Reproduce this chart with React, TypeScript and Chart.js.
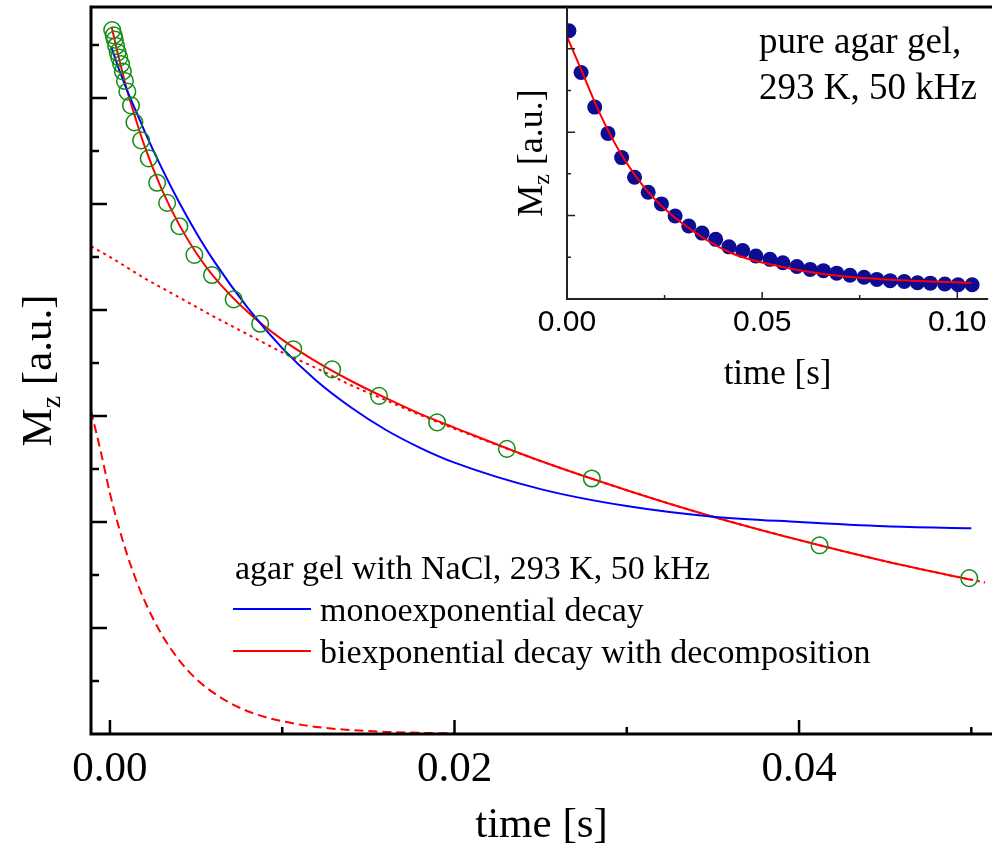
import React, { useEffect, useRef } from 'react';
import { Chart, registerables } from 'chart.js';
Chart.register(...registerables);

const SERIF = "'Liberation Serif', 'Times New Roman', serif";
const SANS = "'Liberation Sans', Arial, sans-serif";

// ---------- Main chart: agar gel with NaCl ----------
const circleTimes = [0.00013, 0.00022, 0.00028, 0.00036, 0.00045, 0.00054, 0.00065, 0.00075, 0.00087, 0.00101, 0.00122, 0.00142, 0.00181, 0.00225, 0.00274, 0.00332, 0.00403, 0.0049, 0.00592, 0.00718, 0.00872, 0.01064, 0.0129, 0.01562, 0.01899, 0.02304, 0.02797, 0.04119, 0.04988];
const circleValues = [6.64, 6.59, 6.55, 6.49, 6.43, 6.38, 6.32, 6.25, 6.16, 6.06, 5.93, 5.77, 5.6, 5.43, 5.2, 5.01, 4.79, 4.52, 4.33, 4.1, 3.87, 3.63, 3.44, 3.19, 2.94, 2.69, 2.41, 1.78, 1.47];

const fitTimes = [0.0001, 0.0005, 0.001, 0.0015, 0.002, 0.003, 0.004, 0.005, 0.006, 0.008, 0.01, 0.012, 0.014, 0.016, 0.018, 0.02, 0.025, 0.03, 0.035, 0.04, 0.045, 0.05];
const monoValues = [6.47, 6.28, 6.07, 5.88, 5.69, 5.34, 5.02, 4.73, 4.47, 4.02, 3.64, 3.33, 3.08, 2.87, 2.7, 2.56, 2.31, 2.15, 2.05, 2.0, 1.96, 1.94];
const biValues = [6.67, 6.39, 6.07, 5.8, 5.55, 5.14, 4.81, 4.54, 4.32, 3.98, 3.72, 3.51, 3.33, 3.17, 3.02, 2.89, 2.575, 2.3, 2.05, 1.83, 1.63, 1.455];

const slowTimes = [-0.0011, 0, 0.001, 0.002, 0.003, 0.004, 0.005, 0.006, 0.008, 0.01, 0.012, 0.014, 0.016, 0.018, 0.02, 0.025, 0.03, 0.035, 0.04, 0.045, 0.05, 0.0508];
const slowValues = [4.6, 4.5, 4.4, 4.3, 4.21, 4.12, 4.03, 3.94, 3.77, 3.6, 3.45, 3.29, 3.15, 3.01, 2.88, 2.575, 2.3, 2.05, 1.83, 1.63, 1.455, 1.43];

const fastTimes = [-0.0011, -0.0005, 0, 0.0005, 0.001, 0.0015, 0.002, 0.003, 0.004, 0.005, 0.006, 0.007, 0.008, 0.009, 0.01, 0.012, 0.014, 0.016, 0.018, 0.02];
const fastValues = [3.05, 2.64, 2.27, 1.96, 1.69, 1.46, 1.26, 0.94, 0.7, 0.52, 0.39, 0.29, 0.215, 0.16, 0.12, 0.066, 0.037, 0.02, 0.011, 0.006];

const mainXMajor = [0, 0.02, 0.04];
const mainXMinor = [0.01, 0.03, 0.05];
const mainYMajor = [1, 2, 3, 4, 5, 6];
const mainYMinor = [0.5, 1.5, 2.5, 3.5, 4.5, 5.5, 6.5];

const legendTitle = 'agar gel with NaCl, 293 K, 50 kHz';
const legendMono = 'monoexponential decay';
const legendBi = 'biexponential decay with decomposition';

// ---------- Inset: pure agar gel ----------
const insetTimes = [0.0005, 0.0036, 0.0071, 0.0105, 0.014, 0.0173, 0.0208, 0.0242, 0.0277, 0.0312, 0.0346, 0.0381, 0.0415, 0.045, 0.0484, 0.052, 0.0553, 0.0589, 0.0623, 0.0657, 0.0691, 0.0725, 0.0761, 0.0794, 0.0828, 0.0864, 0.0898, 0.0931, 0.0968, 0.1002, 0.1038];
const insetValues = [6.43, 5.43, 4.6, 3.97, 3.39, 2.92, 2.56, 2.28, 1.99, 1.75, 1.58, 1.43, 1.25, 1.16, 1.03, 0.95, 0.87, 0.78, 0.71, 0.68, 0.62, 0.57, 0.52, 0.47, 0.44, 0.42, 0.39, 0.38, 0.36, 0.34, 0.34];
const insetFitTimes = [0, 0.0033, 0.0084, 0.0135, 0.0211, 0.0295, 0.0422, 0.0549, 0.0676, 0.0845, 0.1036];
const insetFitValues = [6.29, 5.57, 4.45, 3.53, 2.53, 1.815, 1.096, 0.775, 0.576, 0.456, 0.391];

const insetXMajor = [0, 0.05, 0.1];
const insetXMinor = [0.025, 0.075];
const insetYMajor = [2, 4, 6];
const insetYMinor = [1, 3, 5];
const insetText = ['pure agar gel,', '293 K, 50 kHz'];

const pts = (xs: number[], ys: number[]) => xs.map((x, i) => ({ x, y: ys[i] }));

function drawMzTitle(ctx: CanvasRenderingContext2D, baseX: number, cy: number, size: number) {
  ctx.save();
  ctx.translate(baseX, cy);
  ctx.rotate(-Math.PI / 2);
  ctx.fillStyle = '#000';
  ctx.textBaseline = 'alphabetic';
  ctx.textAlign = 'left';
  const big = `${size}px ${SERIF}`;
  const small = `${Math.round(size * 0.66)}px ${SERIF}`;
  ctx.font = big;
  const wM = ctx.measureText('M').width;
  const wRest = ctx.measureText(' [a.u.]').width;
  ctx.font = small;
  const wz = ctx.measureText('z').width;
  let x = -(wM + wz + wRest) / 2;
  ctx.font = big;
  ctx.fillText('M', x, 0);
  x += wM;
  ctx.font = small;
  ctx.fillText('z', x, size * 0.2);
  x += wz;
  ctx.font = big;
  ctx.fillText(' [a.u.]', x, 0);
  ctx.restore();
}

const mainDecor = {
  id: 'mainDecor',
  afterDraw(chart: any) {
    const { ctx, chartArea: a, scales } = chart;
    const xs = scales.x;
    const ys = scales.y;
    ctx.save();
    ctx.strokeStyle = '#000';
    ctx.lineWidth = 3;
    ctx.beginPath();
    ctx.moveTo(a.left - 1.5, a.top);
    ctx.lineTo(a.right, a.top);
    ctx.moveTo(a.left, a.top);
    ctx.lineTo(a.left, a.bottom + 1.5);
    ctx.moveTo(a.left - 1.5, a.bottom);
    ctx.lineTo(a.right, a.bottom);
    ctx.stroke();

    ctx.lineWidth = 2.5;
    ctx.beginPath();
    mainXMajor.forEach((v) => {
      const p = xs.getPixelForValue(v);
      ctx.moveTo(p, a.bottom);
      ctx.lineTo(p, a.bottom - 14);
    });
    mainXMinor.forEach((v) => {
      const p = xs.getPixelForValue(v);
      ctx.moveTo(p, a.bottom);
      ctx.lineTo(p, a.bottom - 7);
    });
    mainYMajor.forEach((v) => {
      const p = ys.getPixelForValue(v);
      ctx.moveTo(a.left, p);
      ctx.lineTo(a.left + 16, p);
    });
    mainYMinor.forEach((v) => {
      const p = ys.getPixelForValue(v);
      ctx.moveTo(a.left, p);
      ctx.lineTo(a.left + 8, p);
    });
    ctx.stroke();

    drawMzTitle(ctx, 51, (a.top + a.bottom) / 2, 43);

    // legend
    ctx.fillStyle = '#000';
    ctx.textAlign = 'left';
    ctx.textBaseline = 'alphabetic';
    ctx.font = `34px ${SERIF}`;
    ctx.fillText(legendTitle, 235, 579);
    ctx.fillText(legendMono, 320, 621);
    ctx.fillText(legendBi, 320, 663);
    ctx.lineWidth = 2;
    ctx.strokeStyle = '#0000ff';
    ctx.beginPath();
    ctx.moveTo(233, 609);
    ctx.lineTo(311, 609);
    ctx.stroke();
    ctx.strokeStyle = '#ff0000';
    ctx.beginPath();
    ctx.moveTo(233, 651);
    ctx.lineTo(311, 651);
    ctx.stroke();
    ctx.restore();
  },
};

const insetDecor = {
  id: 'insetDecor',
  beforeDatasetsDraw(chart: any) {
    const { ctx, chartArea: a } = chart;
    ctx.save();
    ctx.fillStyle = '#fff';
    ctx.fillRect(a.left, a.top + 2, a.right - a.left, a.bottom - a.top - 2);
    ctx.restore();
  },
  afterDraw(chart: any) {
    const { ctx, chartArea: a, scales } = chart;
    const xs = scales.x;
    const ys = scales.y;
    ctx.save();
    ctx.strokeStyle = '#222';
    ctx.lineWidth = 2;
    ctx.beginPath();
    ctx.moveTo(a.left, a.top);
    ctx.lineTo(a.left, a.bottom + 1);
    ctx.moveTo(a.left - 1, a.bottom);
    ctx.lineTo(a.right, a.bottom);
    ctx.stroke();
    ctx.lineWidth = 1.5;
    ctx.beginPath();
    insetXMajor.forEach((v) => {
      const p = xs.getPixelForValue(v);
      ctx.moveTo(p, a.bottom);
      ctx.lineTo(p, a.bottom - 7);
    });
    insetXMinor.forEach((v) => {
      const p = xs.getPixelForValue(v);
      ctx.moveTo(p, a.bottom);
      ctx.lineTo(p, a.bottom - 4);
    });
    insetYMajor.forEach((v) => {
      const p = ys.getPixelForValue(v);
      ctx.moveTo(a.left, p);
      ctx.lineTo(a.left + 8, p);
    });
    insetYMinor.forEach((v) => {
      const p = ys.getPixelForValue(v);
      ctx.moveTo(a.left, p);
      ctx.lineTo(a.left + 4, p);
    });
    ctx.stroke();

    drawMzTitle(ctx, 52, (a.top + a.bottom) / 2, 36);

    ctx.fillStyle = '#000';
    ctx.textAlign = 'left';
    ctx.textBaseline = 'alphabetic';
    ctx.font = `37px ${SERIF}`;
    ctx.fillText(insetText[0], 269, 53);
    ctx.fillText(insetText[1], 269, 99);
    ctx.restore();
  },
};

function mainConfig(): any {
  return {
    type: 'scatter',
    data: {
      datasets: [
        {
          label: 'data',
          data: pts(circleTimes, circleValues),
          showLine: false,
          pointRadius: 8.3,
          pointBorderWidth: 1.5,
          pointBorderColor: 'rgb(20,140,20)',
          pointBackgroundColor: 'rgba(0,0,0,0)',
        },
        {
          label: legendMono,
          data: pts(fitTimes, monoValues),
          showLine: true,
          borderColor: '#0000ff',
          borderWidth: 2,
          pointRadius: 0,
          cubicInterpolationMode: 'monotone',
        },
        {
          label: legendBi,
          data: pts(fitTimes, biValues),
          showLine: true,
          borderColor: '#ff0000',
          borderWidth: 2,
          pointRadius: 0,
          cubicInterpolationMode: 'monotone',
        },
        {
          label: 'slow component',
          data: pts(slowTimes, slowValues),
          showLine: true,
          borderColor: '#ff0000',
          borderWidth: 2,
          borderDash: [3, 4],
          pointRadius: 0,
          cubicInterpolationMode: 'monotone',
        },
        {
          label: 'fast component',
          data: pts(fastTimes, fastValues),
          showLine: true,
          borderColor: '#ff0000',
          borderWidth: 2,
          borderDash: [9, 5],
          pointRadius: 0,
          cubicInterpolationMode: 'monotone',
        },
      ],
    },
    options: {
      responsive: false,
      animation: false,
      devicePixelRatio: 1,
      layout: { autoPadding: false, padding: { top: 7, left: 0, right: 0, bottom: 0 } },
      plugins: { legend: { display: false }, tooltip: { enabled: false } },
      scales: {
        x: {
          type: 'linear',
          min: -0.0011,
          max: 0.0512,
          grid: { display: false, drawTicks: false },
          border: { display: false },
          afterBuildTicks: (s: any) => {
            s.ticks = mainXMajor.map((v) => ({ value: v }));
          },
          afterFit: (s: any) => {
            s.height = 115;
          },
          ticks: {
            font: { family: SERIF, size: 43 },
            color: '#000',
            padding: 10,
            maxRotation: 0,
            autoSkip: false,
            callback: (v: any) => Number(v).toFixed(2),
          },
          title: {
            display: true,
            text: 'time [s]',
            color: '#000',
            font: { family: SERIF, size: 43, lineHeight: 1 },
            padding: { top: 0, bottom: 2 },
          },
        },
        y: {
          type: 'linear',
          min: 0,
          max: 6.858,
          grid: { display: false, drawTicks: false },
          border: { display: false },
          ticks: { display: false },
          afterFit: (s: any) => {
            s.width = 91;
          },
        },
      },
    },
    plugins: [mainDecor],
  };
}

function insetConfig(): any {
  return {
    type: 'scatter',
    data: {
      datasets: [
        {
          label: 'fit',
          data: pts(insetFitTimes, insetFitValues),
          showLine: true,
          borderColor: '#ff0000',
          borderWidth: 2,
          pointRadius: 0,
          cubicInterpolationMode: 'monotone',
        },
        {
          label: 'pure agar gel',
          data: pts(insetTimes, insetValues),
          showLine: false,
          pointRadius: 7.5,
          pointBorderWidth: 0,
          pointBackgroundColor: '#0c0c94',
          pointBorderColor: '#0c0c94',
        },
      ],
    },
    options: {
      responsive: false,
      animation: false,
      devicePixelRatio: 1,
      layout: { autoPadding: false, padding: { top: 7, left: 0, right: 0, bottom: 0 } },
      plugins: { legend: { display: false }, tooltip: { enabled: false } },
      scales: {
        x: {
          type: 'linear',
          min: 0,
          max: 0.1079,
          grid: { display: false, drawTicks: false },
          border: { display: false },
          afterBuildTicks: (s: any) => {
            s.ticks = insetXMajor.map((v) => ({ value: v }));
          },
          afterFit: (s: any) => {
            s.height = 101;
          },
          ticks: {
            font: { family: SANS, size: 30 },
            color: '#000',
            padding: 5.5,
            maxRotation: 0,
            autoSkip: false,
            callback: (v: any) => Number(v).toFixed(2),
          },
          title: {
            display: true,
            text: 'time [s]',
            color: '#000',
            font: { family: SERIF, size: 35, lineHeight: 1 },
            padding: { top: 0, bottom: 8 },
          },
        },
        y: {
          type: 'linear',
          min: 0,
          max: 7.0,
          grid: { display: false, drawTicks: false },
          border: { display: false },
          ticks: { display: false },
          afterFit: (s: any) => {
            s.width = 77;
          },
        },
      },
    },
    plugins: [insetDecor],
  };
}

export default function App() {
  const mainRef = useRef<HTMLCanvasElement>(null);
  const insetRef = useRef<HTMLCanvasElement>(null);
  useEffect(() => {
    const c1 = new Chart(mainRef.current as HTMLCanvasElement, mainConfig());
    const c2 = new Chart(insetRef.current as HTMLCanvasElement, insetConfig());
    return () => {
      c1.destroy();
      c2.destroy();
    };
  }, []);
  return (
    <div style={{ position: 'absolute', left: 0, top: 0, width: 992, height: 849, background: '#fff', overflow: 'hidden' }}>
      <canvas ref={mainRef} width={992} height={849} style={{ position: 'absolute', left: 0, top: 0, width: 992, height: 849 }} />
      <canvas ref={insetRef} width={502} height={400} style={{ position: 'absolute', left: 490, top: 0, width: 502, height: 400 }} />
    </div>
  );
}
